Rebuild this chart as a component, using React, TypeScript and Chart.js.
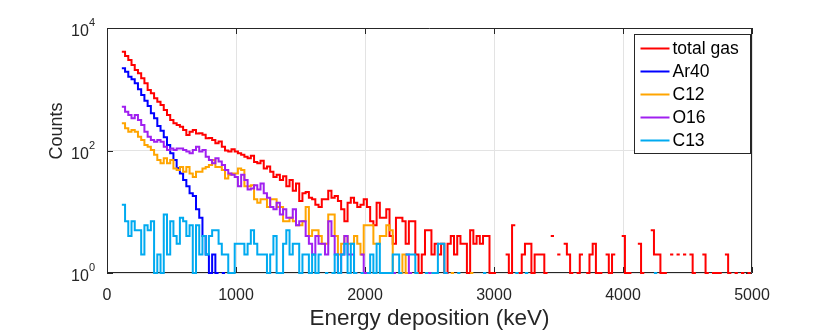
import React, { useEffect, useRef } from 'react';
import { Chart, registerables } from 'chart.js';

Chart.register(...registerables);

// Histogram bins (keV)
const BIN_START = 115;
const BIN_WIDTH = 25;

// Counts per bin
const totalGas = [
  4100, 3490, 3000, 2490, 2060, 1820, 1510, 1250, 973, 859,
  711, 627, 553, 458, 380, 315, 278, 261, 245, 216,
  179, 203, 216, 190, 191, 180, 158, 160, 148, 131,
  140, 115, 100, 96, 105, 96, 90, 85, 79, 75,
  82, 65, 62, 68, 51, 55, 45, 37, 40, 33,
  38, 26, 33, 22, 29, 15, 20, 21, 17, 16,
  13, 12, 16, 16, 22, 17, 18, 15, 11, 7,
  14, 17, 14, 12, 13, 16, 12, 7, 6, 14,
  8, 8, 11, 4, 3, 8, 8, 7, 3, 7,
  7, 2, 1, 2, 5, 5, 2, 3, 2, 3,
  1, 3, 4, 2, 4, 3, 3, 1, 5, 3,
  4, 3, 4, 4, 1, 1, 0, 0, 0, 2,
  1, 6, 0, 1, 2, 3, 3, 1, 2, 2,
  2, 1, 0, 4, 0, 2, 0, 3, 2, 1,
  0, 1, 2, 0, 1, 2, 3, 1, 1, 0,
  2, 1, 2, 0, 0, 4, 1, 1, 0, 0,
  3, 1, 0, 0, 5, 2, 2, 1, 1, 0,
  2, 0, 2, 0, 2, 0, 2, 1, 0, 0,
  2, 1, 0, 1, 1, 1, 0, 2, 1, 0,
  1, 0, 1, 0, 1,
];

const ar40 = [
  2200, 1935, 1600, 1450, 1250, 997, 805, 650, 533, 405,
  335, 251, 211, 164, 123, 90, 70, 52, 42, 33,
  26, 20, 18, 11, 8, 4, 2, 1, 2, 1,
  0, 1, 0, 1,
];

const c12 = [
  278, 230, 203, 216, 203, 168, 148, 123, 115, 102,
  85, 70, 62, 75, 62, 70, 51, 48, 54, 45,
  54, 42, 37, 45, 45, 51, 54, 58, 70, 54,
  54, 48, 35, 40, 42, 42, 51, 48, 26, 26,
  27, 16, 14, 16, 16, 12, 16, 16, 12, 12,
  7, 7, 8, 7, 6, 6, 7, 12, 4, 5,
  5, 4, 3, 3, 9, 9, 4, 2, 3, 4,
  3, 3, 4, 3, 2, 6, 6, 6, 3, 3,
  4, 4, 6, 5, 1, 0, 1, 2, 1, 0,
  0, 1, 0, 0, 0, 0, 1, 0, 0, 0,
  0, 0, 1, 0, 0, 0, 0, 0, 1,
];

const o16 = [
  520, 430, 380, 335, 380, 315, 261, 203, 168, 148,
  139, 148, 139, 115, 102, 108, 102, 108, 108, 102,
  96, 90, 102, 115, 96, 102, 79, 70, 62, 75,
  66, 58, 48, 42, 40, 37, 26, 40, 33, 23,
  24, 27, 23, 29, 20, 17, 12, 11, 14, 9,
  11, 8, 8, 11, 6, 7, 7, 4, 3, 2,
  4, 3, 3, 2, 7, 4, 2, 1, 2, 4,
  2, 2, 1, 0, 2, 1, 0, 0, 1, 0,
  0, 1, 0, 0, 1, 0, 0, 0, 2, 1,
  0, 0, 0, 0, 0, 1, 0, 0, 0, 0,
  1,
];

const c13 = [
  13, 7, 4, 7, 5, 5, 2, 6, 5, 7,
  1, 2, 1, 9, 2, 7, 4, 3, 8, 7,
  4, 6, 1, 6, 2, 4, 2, 4, 5, 5,
  3, 2, 2, 1, 1, 3, 3, 3, 2, 3,
  5, 3, 2, 2, 2, 1, 2, 4, 1, 1,
  3, 5, 2, 3, 3, 1, 2, 2, 1, 2,
  1, 2, 0, 1, 0, 1, 2, 1, 2, 3,
  1, 3, 1, 0, 1, 0, 1, 2, 1, 3,
  1, 1, 1, 1, 2, 2, 1, 0, 2, 2,
  2, 1, 0, 0, 1, 0, 1, 1, 3, 3,
  1, 0, 0, 0, 1, 0, 0, 0, 0, 0,
  0, 0, 1, 0, 0, 0, 0, 0, 0, 0,
  0, 0, 1, 0, 0, 1, 0, 0, 0, 0,
  0, 0, 0, 0, 0, 0, 0, 0, 0, 0,
  0, 0, 0, 0, 0, 0, 0, 0, 0, 0,
  0, 0, 0, 0, 0, 0, 0, 0, 0, 0,
  0, 0, 0, 0, 0, 1,
];

const seriesNames = ['total gas', 'Ar40', 'C12', 'O16', 'C13'];
const seriesCounts = [totalGas, ar40, c12, o16, c13];
const seriesColors = ['#FF0000', '#0000FF', '#FFA500', '#A020F0', '#00AAF0'];

const xTicks = [0, 1000, 2000, 3000, 4000, 5000];
const yTicks = [1, 100, 10000];
const yTickExponents = ['0', '2', '4'];

const xTitle = 'Energy deposition (keV)';
const yTitle = 'Counts';

const FONT = '"Liberation Sans", Arial, Helvetica, sans-serif';
const TEXT = '#262626';

function stairs(counts: number[]) {
  const pts: { x: number; y: number | null }[] = [];
  counts.forEach((c, i) => {
    const x0 = BIN_START + i * BIN_WIDTH;
    const x1 = x0 + BIN_WIDTH;
    if (c > 0) {
      pts.push({ x: x0, y: c });
      pts.push({ x: x1, y: c });
    } else {
      pts.push({ x: x0, y: null });
    }
  });
  return pts;
}

const framePlugin = {
  id: 'frame',
  beforeDatasetsDraw(chart: any) {
    const { ctx, chartArea: a, scales } = chart;
    ctx.save();
    ctx.strokeStyle = TEXT;
    ctx.lineWidth = 1;
    ctx.beginPath();
    ctx.rect(Math.round(a.left) + 0.5, Math.round(a.top) + 0.5,
      Math.round(a.right - a.left) - 1, Math.round(a.bottom - a.top) - 1);
    ctx.stroke();
    const tl = 6;
    ctx.beginPath();
    xTicks.forEach((v) => {
      const px = Math.round(scales.x.getPixelForValue(v)) + 0.5;
      ctx.moveTo(px, a.bottom);
      ctx.lineTo(px, a.bottom - tl);
      ctx.moveTo(px, a.top);
      ctx.lineTo(px, a.top + tl);
    });
    yTicks.forEach((v) => {
      const py = Math.round(scales.y.getPixelForValue(v)) + 0.5;
      ctx.moveTo(a.left, py);
      ctx.lineTo(a.left + tl, py);
      ctx.moveTo(a.right, py);
      ctx.lineTo(a.right - tl, py);
    });
    ctx.stroke();

    // y tick labels: 10 with superscript exponent
    ctx.fillStyle = TEXT;
    ctx.textBaseline = 'alphabetic';
    yTicks.forEach((v, i) => {
      const py = scales.y.getPixelForValue(v);
      const right = a.left - 12;
      ctx.font = `11px ${FONT}`;
      const ew = ctx.measureText(yTickExponents[i]).width;
      ctx.textAlign = 'right';
      ctx.fillText(yTickExponents[i], right, py - 2);
      ctx.font = `16px ${FONT}`;
      ctx.fillText('10', right - ew, py + 8);
    });

    // y axis title
    ctx.save();
    ctx.translate(57, 131);
    ctx.rotate(-Math.PI / 2);
    ctx.font = `18px ${FONT}`;
    ctx.textAlign = 'center';
    ctx.textBaseline = 'middle';
    ctx.fillText(yTitle, 0, 0);
    ctx.restore();
    ctx.restore();
  },
  afterDraw(chart: any) {
    const { ctx, chartArea: a } = chart;
    const w = 116;
    const h = 119;
    const x0 = Math.round(a.right) - 118 + 0.5;
    const y0 = Math.round(a.top) + 6 + 0.5;
    ctx.save();
    ctx.fillStyle = '#FFFFFF';
    ctx.fillRect(x0, y0, w, h);
    ctx.strokeStyle = TEXT;
    ctx.lineWidth = 1;
    ctx.strokeRect(x0, y0, w, h);
    ctx.font = `17.5px ${FONT}`;
    ctx.textBaseline = 'middle';
    ctx.textAlign = 'left';
    seriesNames.forEach((name, k) => {
      const y = y0 + 14 + k * 23;
      ctx.strokeStyle = seriesColors[k];
      ctx.lineWidth = 2;
      ctx.beginPath();
      ctx.moveTo(x0 + 6, y);
      ctx.lineTo(x0 + 35, y);
      ctx.stroke();
      ctx.fillStyle = '#000000';
      ctx.fillText(name, x0 + 38, y + 1);
    });
    ctx.restore();
  },
};

export default function App() {
  const canvasRef = useRef<HTMLCanvasElement | null>(null);

  useEffect(() => {
    const canvas = canvasRef.current;
    if (!canvas) return;
    const datasets = seriesNames.map((name, k) => ({
      label: name,
      data: stairs(seriesCounts[k]),
      borderColor: seriesColors[k],
      backgroundColor: seriesColors[k],
      borderWidth: 2,
      pointRadius: 0,
      tension: 0,
      fill: false,
      spanGaps: false,
      clip: false as any,
      borderJoinStyle: 'miter' as const,
      order: seriesNames.length - k,
    }));

    const chart = new Chart(canvas, {
      type: 'line',
      data: { datasets },
      options: {
        animation: false,
        responsive: false,
        events: [],
        layout: { padding: { left: 0, right: 78, top: 28, bottom: 0 } },
        plugins: {
          legend: { display: false },
          tooltip: { enabled: false },
        },
        scales: {
          x: {
            type: 'linear',
            min: 0,
            max: 5000,
            afterBuildTicks: (scale: any) => {
              scale.ticks = xTicks.map((v) => ({ value: v }));
            },
            afterFit: (scale: any) => {
              scale.height = 59;
            },
            ticks: {
              autoSkip: false,
              maxRotation: 0,
              color: TEXT,
              font: { family: FONT, size: 16 },
              padding: 13,
              callback: (v: any) => String(v),
            },
            grid: {
              color: '#E3E3E3',
              drawTicks: false,
              lineWidth: 1,
            },
            border: { display: false },
            title: {
              display: true,
              text: xTitle,
              color: TEXT,
              font: { family: FONT, size: 22.5 },
              padding: { top: -2.5, bottom: 0 },
            },
          },
          y: {
            type: 'logarithmic',
            min: 1,
            max: 10000,
            afterBuildTicks: (scale: any) => {
              scale.ticks = yTicks.map((v) => ({ value: v }));
            },
            afterFit: (scale: any) => {
              scale.width = 107;
            },
            ticks: { display: false },
            grid: {
              color: '#E3E3E3',
              drawTicks: false,
              lineWidth: 1,
            },
            border: { display: false },
            title: { display: false },
          },
        },
      },
      plugins: [framePlugin],
    });

    return () => chart.destroy();
  }, []);

  return (
    <div style={{ position: 'absolute', left: 0, top: 0, width: 830, height: 332, background: '#FFFFFF' }}>
      <canvas ref={canvasRef} width={830} height={332} />
    </div>
  );
}
